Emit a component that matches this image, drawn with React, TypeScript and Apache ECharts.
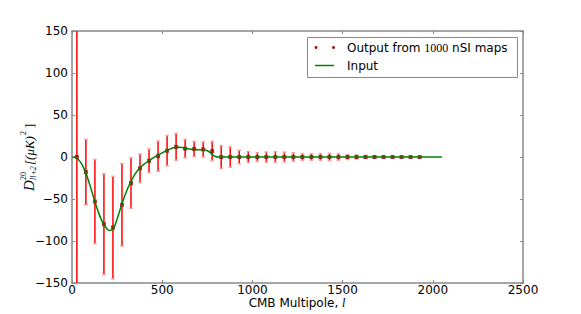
import React, { useEffect, useRef } from "react";
import * as echarts from "echarts";

// Binned output (bin centres in multipole l)
const binEll = [27, 77, 127, 177, 227, 277, 327, 377, 427, 477, 527, 577, 627, 677, 727, 777, 827, 877, 927, 977, 1027, 1077, 1127, 1177, 1227, 1277, 1327, 1377, 1427, 1477, 1527, 1577, 1627, 1677, 1727, 1777, 1827, 1877, 1927];
const outputValues = [0, -18, -53, -80, -84, -57, -31, -13.5, -4.5, 1, 7.5, 12, 10, 9.5, 9, 7, 0, 0, 0, 0, 0, 0, 0, 0, 0, 0, 0, 0, 0, 0, 0, 0, 0, 0, 0, 0, 0, 0, 0];
const outputErrors = [160, 39, 50, 60, 61, 49, 30, 17, 14, 18, 18, 16, 11, 9, 9, 11.5, 13.5, 12, 8, 6.5, 5.2, 6, 6.3, 5.8, 5, 4, 4, 4, 4.4, 4, 3, 2.4, 1.8, 1.5, 1.2, 1.2, 1, 1, 1];

// Input spectrum
const inputEll = [2, 25, 50, 75, 100, 125, 150, 175, 200, 210, 230, 250, 275, 300, 325, 350, 375, 400, 425, 450, 475, 500, 525, 550, 575, 600, 625, 650, 675, 700, 725, 750, 765, 780, 795, 810, 830, 860, 2050];
const inputValues = [0, -1, -7, -18, -34, -52, -68, -80, -87, -87.5, -85, -74, -57, -42, -30, -20, -13, -8.5, -4.5, -1, 2, 5, 7.5, 10, 11.5, 11.5, 10.5, 9.5, 9, 8.7, 8.5, 7.5, 5.5, 2.5, 0.6, 0, 0, 0, 0];

const xTicks = [0, 500, 1000, 1500, 2000, 2500];
const yTicks = [-150, -100, -50, 0, 50, 100, 150];

const SANS = "DejaVu Sans";
const SERIF = "Liberation Serif";

export default function App() {
  const ref = useRef<HTMLDivElement>(null);
  useEffect(() => {
    if (!ref.current) return;
    const chart = echarts.init(ref.current, undefined, { renderer: "svg" });
    const yMin = yTicks[0];
    const yMax = yTicks[yTicks.length - 1];
    const frameColor = "#888";
    const errData = binEll.map((l, i) => [l, outputValues[i], outputErrors[i]]);
    const axisCommon = {
      type: "value",
      splitLine: { show: false },
      axisLine: { show: true, onZero: false, lineStyle: { color: frameColor, width: 1.5 } },
      axisTick: { show: true, inside: true, length: 3, lineStyle: { color: frameColor } },
    };
    const fmt = (v: number) => String(v).replace("-", "\u2212");
    chart.setOption({
      animation: false,
      grid: { left: 72, top: 31, right: 58, bottom: 31, containLabel: false, outerBoundsMode: "none" },
      xAxis: [
        {
          ...axisCommon,
          position: "bottom",
          min: xTicks[0],
          max: xTicks[xTicks.length - 1],
          interval: 500,
          axisLabel: { margin: 1, lineHeight: 12, color: "#000", fontSize: 12, fontFamily: SANS, formatter: fmt },
        },
        {
          ...axisCommon,
          position: "top",
          min: xTicks[0],
          max: xTicks[xTicks.length - 1],
          interval: 500,
          axisLabel: { show: false },
        },
      ],
      yAxis: [
        {
          ...axisCommon,
          position: "left",
          min: yMin,
          max: yMax,
          interval: 50,
          axisLabel: { margin: 4, color: "#000", fontSize: 12, fontFamily: SANS, formatter: fmt },
        },
        {
          ...axisCommon,
          position: "right",
          min: yMin,
          max: yMax,
          interval: 50,
          axisLabel: { show: false },
        },
      ],
      series: [
        {
          type: "custom",
          name: "errors",
          z: 2,
          data: errData,
          renderItem: (params: any, api: any) => {
            const x = api.value(0);
            const y = api.value(1);
            const e = api.value(2);
            const lo = Math.max(y - e, yMin);
            const hi = Math.min(y + e, yMax);
            const pLo = api.coord([x, lo]);
            const pHi = api.coord([x, hi]);
            const children: any[] = [
              {
                type: "line",
                shape: { x1: pLo[0], y1: pLo[1], x2: pHi[0], y2: pHi[1] },
                style: { stroke: "#ff0000", lineWidth: 1.5 },
              },
            ];
            const cw = 1.8;
            if (y + e <= yMax)
              children.push({
                type: "line",
                shape: { x1: pHi[0] - cw, y1: pHi[1], x2: pHi[0] + cw, y2: pHi[1] },
                style: { stroke: "#ff9c9c", lineWidth: 1.5 },
              });
            if (y - e >= yMin)
              children.push({
                type: "line",
                shape: { x1: pLo[0] - cw, y1: pLo[1], x2: pLo[0] + cw, y2: pLo[1] },
                style: { stroke: "#ff9c9c", lineWidth: 1.5 },
              });
            return { type: "group", children };
          },
        },
        {
          type: "scatter",
          name: "Output",
          z: 3,
          symbol: "rect",
          symbolSize: 4,
          itemStyle: { color: "#9a0a0a" },
          data: binEll.map((l, i) => [l, outputValues[i]]),
        },
        {
          type: "line",
          name: "Input",
          z: 4,
          smooth: 0.35,
          showSymbol: false,
          symbol: "none",
          lineStyle: { color: "#008000", width: 1.5 },
          data: inputEll.map((l, i) => [l, inputValues[i]]),
        },
      ],
      graphic: [
        // x-axis title
        {
          type: "text",
          x: 297,
          y: 303,
          style: {
            text: "{a|CMB Multipole, }{b|l}",
            align: "center",
            verticalAlign: "middle",
            rich: {
              a: { fontFamily: SANS, fontSize: 12, lineHeight: 12, fill: "#000" },
              b: { fontFamily: SERIF, fontStyle: "italic", fontSize: 12, lineHeight: 12, fill: "#000" },
            },
          },
        },
        // legend
        {
          type: "rect",
          shape: { x: 307.5, y: 37.5, width: 210, height: 40 },
          style: { fill: "#fff", stroke: "#888", lineWidth: 1 },
          z: 10,
        },
        { type: "circle", shape: { cx: 316, cy: 47.5, r: 1.5 }, style: { fill: "#c00000" }, z: 11 },
        { type: "circle", shape: { cx: 333.5, cy: 47.5, r: 1.5 }, style: { fill: "#c00000" }, z: 11 },
        {
          type: "text",
          x: 347,
          y: 47.5,
          z: 11,
          style: {
            text: "{a|Output from }{b|1000}{a| nSI maps}",
            verticalAlign: "middle",
            rich: {
              a: { fontFamily: SANS, fontSize: 12, fill: "#000" },
              b: { fontFamily: SERIF, fontSize: 12, fill: "#000" },
            },
          },
        },
        { type: "line", shape: { x1: 315, y1: 65.5, x2: 334, y2: 65.5 }, style: { stroke: "#008000", lineWidth: 1.5 }, z: 11 },
        {
          type: "text",
          x: 347,
          y: 65.5,
          z: 11,
          style: { text: "Input", fontFamily: SANS, fontSize: 12, fill: "#000", verticalAlign: "middle" },
        },
        // y-axis label (rotated)
        {
          type: "group",
          x: 29,
          y: 157,
          rotation: Math.PI / 2,
          children: [
            { type: "text", x: -34, y: 0, style: { text: "D", fontFamily: SERIF, fontStyle: "italic", fontSize: 15, fill: "#000", verticalAlign: "middle" } },
            { type: "text", x: -23, y: -6, style: { text: "20", fontFamily: SERIF, fontSize: 8, fill: "#000", verticalAlign: "middle" } },
            { type: "text", x: -23, y: 4, style: { text: "ll+2", fontFamily: SERIF, fontStyle: "italic", fontSize: 8, fill: "#000", verticalAlign: "middle" } },
            { type: "text", x: -8, y: 0, style: { text: "[(\u03bcK)", fontFamily: SERIF, fontStyle: "italic", fontSize: 13, fill: "#000", verticalAlign: "middle" } },
            { type: "text", x: 22, y: -6, style: { text: "2", fontFamily: SERIF, fontSize: 8, fill: "#000", verticalAlign: "middle" } },
            { type: "text", x: 29, y: 0, style: { text: "]", fontFamily: SERIF, fontSize: 13, fill: "#000", verticalAlign: "middle" } },
          ],
        },
      ],
    });
    return () => chart.dispose();
  }, []);
  return <div ref={ref} style={{ width: 581, height: 314, position: "absolute", left: 0, top: 0 }} />;
}
